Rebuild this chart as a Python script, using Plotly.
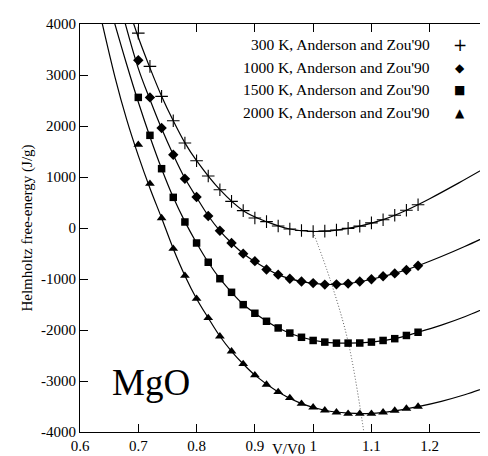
import plotly.graph_objects as go

# ---------------- data ----------------
vv0 = [0.70, 0.72, 0.74, 0.76, 0.78, 0.80, 0.82, 0.84, 0.86, 0.88, 0.90, 0.92,
       0.94, 0.96, 0.98, 1.00, 1.02, 1.04, 1.06, 1.08, 1.10, 1.12, 1.14, 1.16, 1.18]

pts_300 = [3822, 3169, 2581, 2103, 1666, 1320, 1019, 751, 523, 340, 196, 125,
           40, -20, -50, -68, -62, -40, -7, 36, 101, 163, 250, 349, 457]
pts_1000 = [3290, 2561, 1960, 1437, 966, 608, 235, -55, -294, -503, -650, -815,
            -915, -994, -1050, -1080, -1110, -1105, -1090, -1050, -1005, -947, -890, -823, -739]
pts_1500 = [2561, 1817, 1163, 601, 118, -294, -672, -994, -1261, -1503, -1672, -1829,
            -1960, -2060, -2143, -2205, -2237, -2257, -2257, -2255, -2237, -2205, -2170, -2107, -2044]
pts_2000 = [1633, 869, 196, -405, -934, -1386, -1764, -2123, -2417, -2666, -2885, -3071,
            -3214, -3332, -3444, -3515, -3574, -3613, -3640, -3640, -3640, -3613, -3580, -3541, -3502]

# fitted curves (solid lines)
fit_x_300 = [0.685, 0.70, 0.72, 0.74, 0.76, 0.78, 0.80, 0.84, 0.88, 0.92, 0.96, 1.00,
             1.04, 1.08, 1.12, 1.16, 1.20, 1.25, 1.30]
fit_y_300 = [4250, 3740, 3140, 2585, 2103, 1670, 1320, 751, 340, 125, -20, -68,
             -40, 36, 163, 349, 575, 885, 1210]

fit_x_1000 = [0.67, 0.70, 0.72, 0.74, 0.76, 0.78, 0.80, 0.82, 0.84, 0.86, 0.88, 0.90,
              0.94, 0.98, 1.02, 1.06, 1.10, 1.14, 1.18, 1.22, 1.26, 1.30]
fit_y_1000 = [4330, 3130, 2520, 1950, 1437, 975, 600, 240, -55, -294, -500, -660,
              -915, -1050, -1105, -1090, -1005, -890, -739, -559, -363, -151]

fit_x_1500 = [0.65, 0.68, 0.70, 0.72, 0.74, 0.76, 0.78, 0.80, 0.82, 0.84, 0.86, 0.88,
              0.90, 0.94, 0.98, 1.02, 1.06, 1.10, 1.14, 1.18, 1.22, 1.26, 1.30]
fit_y_1500 = [4390, 3210, 2470, 1790, 1163, 601, 125, -294, -672, -994, -1261, -1495,
              -1672, -1960, -2143, -2237, -2257, -2237, -2170, -2044, -1904, -1740, -1548]

fit_x_2000 = [0.63, 0.66, 0.68, 0.70, 0.72, 0.74, 0.76, 0.78, 0.80, 0.82, 0.84, 0.86,
              0.88, 0.90, 0.94, 0.98, 1.02, 1.06, 1.10, 1.14, 1.18, 1.22, 1.26, 1.30]
fit_y_2000 = [4420, 2960, 2130, 1420, 780, 196, -405, -934, -1386, -1764, -2123, -2417,
              -2666, -2885, -3214, -3444, -3574, -3630, -3635, -3585, -3502, -3398, -3270, -3116]

# locus of minima (dotted)
min_x = [1.00, 1.03, 1.06, 1.087]
min_y = [-80, -1040, -2230, -4000]

series_labels = ["300 K, Anderson and Zou'90", "1000 K, Anderson and Zou'90",
                 "1500 K, Anderson and Zou'90", "2000 K, Anderson and Zou'90"]
legend_glyphs = ["+", "\u25C6", "\u25A0", "\u25B2"]

x_ticks = [0.6, 0.7, 0.8, 0.9, 1.0, 1.1, 1.2, 1.3]
x_ticktext = ["0.6", "0.7", "0.8", "0.9", "1", "1.1", "1.2", "1.3"]
y_ticks = [-4000, -3000, -2000, -1000, 0, 1000, 2000, 3000, 4000]
y_ticktext = ["-4000", "-3000", "-2000", "-1000", "0", "1000", "2000", "3000", "4000"]

# ---------------- figure ----------------
SERIF = "Liberation Serif"
fig = go.Figure()

for fx, fy in [(fit_x_300, fit_y_300), (fit_x_1000, fit_y_1000),
               (fit_x_1500, fit_y_1500), (fit_x_2000, fit_y_2000)]:
    fig.add_trace(go.Scatter(x=fx, y=fy, mode="lines",
                             line=dict(color="black", width=1.2, shape="spline", smoothing=1.0),
                             showlegend=False, hoverinfo="skip"))

fig.add_trace(go.Scatter(x=min_x, y=min_y, mode="lines",
                         line=dict(color="#555555", width=1, dash="1px,2px", shape="spline"),
                         showlegend=False, hoverinfo="skip"))

marker_specs = [
    (pts_300, dict(symbol="cross-thin", size=9, color="black", line=dict(color="black", width=1.1))),
    (pts_1000, dict(symbol="diamond", size=8, color="black")),
    (pts_1500, dict(symbol="square", size=7.5, color="black")),
    (pts_2000, dict(symbol="triangle-up", size=8.5, color="black")),
]
for (vals, mk), name in zip(marker_specs, series_labels):
    fig.add_trace(go.Scatter(x=vv0, y=vals, mode="markers", marker=mk, name=name,
                             showlegend=False))

# legend (gnuplot style: text then symbol)
leg_y = [0.949, 0.893, 0.839, 0.783]
glyph_sizes = [17, 12, 12, 12]
for lab, gl, yy, gs in zip(series_labels, legend_glyphs, leg_y, glyph_sizes):
    fig.add_annotation(xref="paper", yref="paper", x=0.862, y=yy, text=lab,
                       showarrow=False, xanchor="right", yanchor="middle",
                       font=dict(family=SERIF, size=15.5, color="black"))
    fig.add_annotation(xref="paper", yref="paper", x=0.931, y=yy, text=gl,
                       showarrow=False, xanchor="center", yanchor="middle",
                       font=dict(family="DejaVu Sans", size=gs, color="black"))

fig.add_annotation(x=0.722, y=-3020, text="MgO", showarrow=False,
                   xanchor="center", yanchor="middle",
                   font=dict(family=SERIF, size=37, color="black"))

# x-axis title placed just under the tick labels
fig.add_annotation(xref="paper", yref="paper", x=0.51, y=-0.041, text="V/V0",
                   showarrow=False, xanchor="center", yanchor="middle",
                   font=dict(family=SERIF, size=15, color="black"))

axis_common = dict(showline=True, linecolor="black", linewidth=1, mirror="ticks",
                   ticks="inside", ticklen=8, tickcolor="black", tickwidth=1,
                   showgrid=False, zeroline=False,
                   tickfont=dict(family=SERIF, size=15, color="black"))

fig.update_xaxes(range=[0.6, 1.3], tickvals=x_ticks, ticktext=x_ticktext,
                 **axis_common)
fig.update_yaxes(range=[-4000, 4000], tickvals=y_ticks, ticktext=y_ticktext,
                 title=dict(text="Helmholtz free-energy (J/g)",
                            font=dict(family=SERIF, size=15, color="black"), standoff=4),
                 **axis_common)

fig.update_layout(width=488, height=456, autosize=False,
                  margin=dict(l=72, r=8, t=16, b=32, autoexpand=False),
                  plot_bgcolor="white", paper_bgcolor="white", showlegend=False)

fig.write_html("out.html")
